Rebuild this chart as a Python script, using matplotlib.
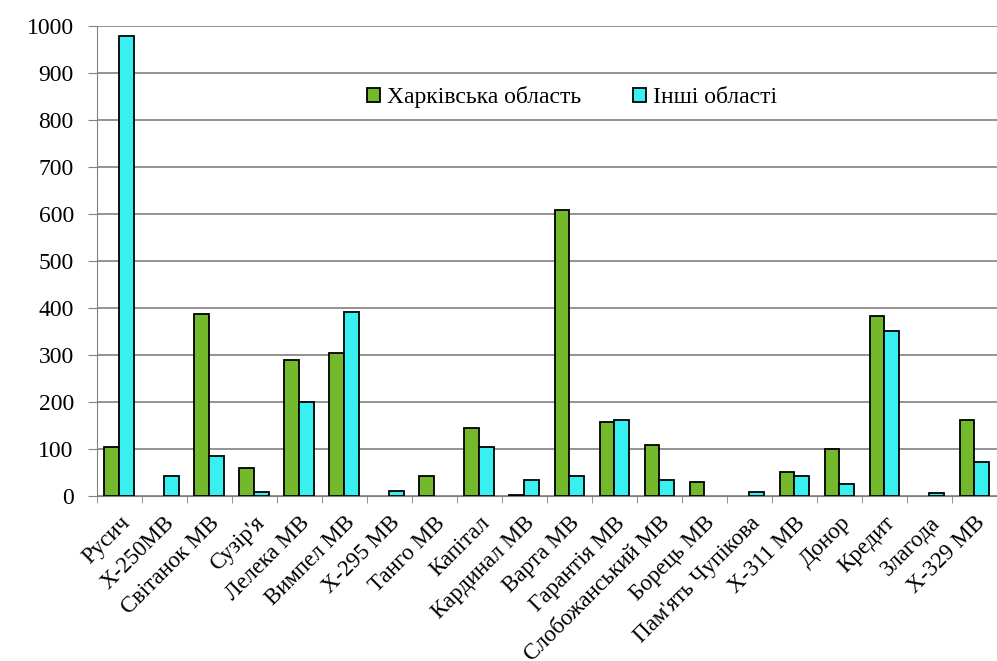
import matplotlib.pyplot as plt
import matplotlib.transforms as mtransforms
import numpy as np

# сорти та кількість (за рисунком)
sorts = ["Русич", "Х-250МВ", "Світанок МВ", "Сузір'я", "Лелека МВ", "Вимпел МВ",
         "Х-295 МВ", "Танго МВ", "Капітал", "Кардинал МВ", "Варта МВ", "Гарантія МВ",
         "Слобожанський МВ", "Борець МВ", "Пам'ять Чупікова", "Х-311 МВ", "Донор",
         "Кредит", "Злагода", "Х-329 МВ"]
kharkiv = [104, 0, 387, 60, 288, 303, 0, 43, 144, 2, 607, 156, 109, 30, 0, 50, 99, 382, 0, 161]
others = [978, 41, 85, 8, 199, 390, 10, 0, 104, 33, 43, 162, 33, 0, 8, 42, 25, 350, 5, 72]
series_names = ["Харківська область", "Інші області"]

plt.rcParams['font.family'] = ['Liberation Serif', 'DejaVu Serif']

fig = plt.figure(figsize=(9.97, 6.61), dpi=100)
ax = fig.add_axes([0.097, 0.25, 0.903, 0.711])

x = np.arange(len(sorts))
w = 0.33
# нульові значення в Excel не малюються
kh = np.where(np.array(kharkiv) == 0, np.nan, kharkiv)
ot = np.where(np.array(others) == 0, np.nan, others)
ax.bar(x - w / 2, kh, w, color='#74b82b', edgecolor='black', linewidth=1.3,
       label=series_names[0], zorder=3)
ax.bar(x + w / 2, ot, w, color='#38f0f0', edgecolor='black', linewidth=1.3,
       label=series_names[1], zorder=3)

ax.set_ylim(0, 1000)
ax.set_xlim(-0.5, 19.24)
ax.set_yticks(range(0, 1001, 100))
ax.yaxis.grid(True, color='#808080', linewidth=1.2, zorder=0)

ax.set_xticks(x)
ax.set_xticklabels(sorts, rotation=45, ha='right', rotation_mode='anchor', fontsize=16.5)
shift = mtransforms.ScaledTranslation(-4 / 100, 0, fig.dpi_scale_trans)
for lbl in ax.get_xticklabels():
    lbl.set_transform(lbl.get_transform() + shift)
ax.set_xticks(np.arange(-0.5, len(sorts), 1), minor=True)
ax.tick_params(axis='x', which='major', length=0, pad=12)
ax.tick_params(axis='x', which='minor', length=5, color='#808080')
ax.tick_params(axis='y', length=6.5, color='#808080', labelsize=17, pad=10)

for s in ['top', 'right']:
    ax.spines[s].set_visible(False)
ax.spines['left'].set_color('#808080')
ax.spines['bottom'].set_color('#808080')

ax.legend(loc='center', bbox_to_anchor=(0.528, 0.848), ncol=2, frameon=False,
          fontsize=17, handlelength=0.55, handleheight=0.55, handletextpad=0.3,
          columnspacing=2.2)

fig.savefig('out.png', dpi=100)
